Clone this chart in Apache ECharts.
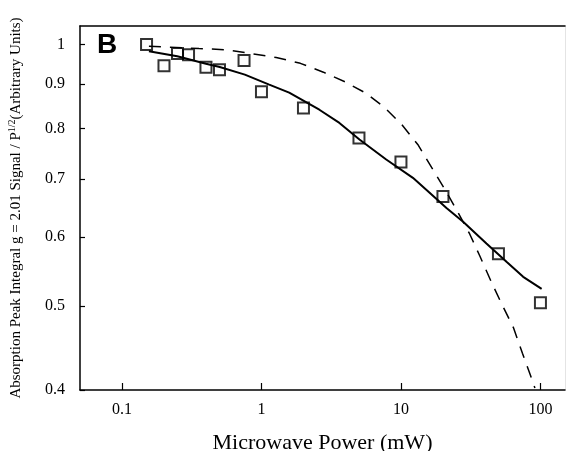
<!DOCTYPE html>
<html><head><meta charset="utf-8">
<script src="https://cdn.jsdelivr.net/npm/echarts@6/dist/echarts.min.js"></script>
<style>html,body{margin:0;padding:0;background:#fff}#c{width:566px;height:451px}</style>
</head><body><div id="c"></div>
<script>
const xTicks = [0.1, 1, 10, 100];
const yTicks = [0.4, 0.5, 0.6, 0.7, 0.8, 0.9, 1];
const powerData = [0.15, 0.2, 0.25, 0.3, 0.4, 0.5, 0.75, 1, 2, 5, 10, 20, 50, 100];
const signalData = [1.0, 0.945, 0.976, 0.973, 0.941, 0.935, 0.958, 0.882, 0.845, 0.780, 0.732, 0.668, 0.574, 0.504];
const fitPower = [0.156, 0.249, 0.40, 0.502, 0.76, 1.136, 1.58, 2.60, 3.62, 5.04, 7.84, 12.18, 16.05, 21.2, 27.9, 41.0, 57.1, 75.2, 102];
const fitSignal = [0.982, 0.969, 0.950, 0.942, 0.923, 0.899, 0.880, 0.841, 0.812, 0.777, 0.737, 0.702, 0.675, 0.648, 0.625, 0.590, 0.562, 0.540, 0.523];
const dashPower = [0.156, 0.357, 0.557, 0.843, 1.275, 1.90, 2.78, 4.0, 5.66, 7.62, 10.1, 13.2, 21.1, 25.7, 31.1, 36.7, 44.4, 52.0, 64.0, 74.3, 84.8, 91.3];
const dashSignal = [0.995, 0.989, 0.986, 0.976, 0.966, 0.951, 0.929, 0.905, 0.878, 0.846, 0.809, 0.767, 0.677, 0.640, 0.605, 0.571, 0.533, 0.505, 0.472, 0.441, 0.416, 0.402];

const zip = (a, b) => a.map((v, i) => [v, b[i]]);
const serif = 'Liberation Serif';
const chart = echarts.init(document.getElementById('c'));
chart.setOption({
  animation: false,
  backgroundColor: '#fff',
  grid: { left: 80, right: 1, top: 26, bottom: 61, containLabel: false, outerBoundsMode: 'none' },
  xAxis: [{
    type: 'log', min: 0.05, max: 150,
    name: 'Microwave Power (mW)', nameLocation: 'middle', nameGap: 42,
    nameTextStyle: { fontFamily: serif, fontSize: 22, color: '#000' },
    axisLine: { lineStyle: { color: '#000', width: 1.5 } },
    axisTick: { inside: true, length: 7, lineStyle: { color: '#000', width: 1.2 }, customValues: xTicks },
    axisLabel: { fontFamily: serif, fontSize: 16, color: '#000', margin: 12, customValues: xTicks,
      formatter: v => String(v) },
    minorTick: { show: false }, splitLine: { show: false }
  }, {
    type: 'log', min: 0.05, max: 150, position: 'top',
    axisLine: { lineStyle: { color: '#000', width: 1.5 } },
    axisTick: { show: false }, axisLabel: { show: false }, splitLine: { show: false }
  }],
  yAxis: [{
    type: 'log', min: 0.4, max: 1.05,
    name: '{a|Absorption Peak Integral g = 2.01 Signal / P}{s|1/2}{a|(Arbitrary Units)}',
    nameLocation: 'middle', nameGap: 54, nameRotate: 90,
    nameTextStyle: { fontFamily: serif, color: '#000',
      rich: { a: { fontFamily: serif, fontSize: 15, color: '#000', lineHeight: 19 },
              s: { fontFamily: serif, fontSize: 10, color: '#000', verticalAlign: 'top', lineHeight: 19, padding: [0, 0, 7, 0] } } },
    axisLine: { lineStyle: { color: '#000', width: 1.5 } },
    axisTick: { inside: true, length: 5, lineStyle: { color: '#000', width: 1.2 }, customValues: yTicks },
    axisLabel: { fontFamily: serif, fontSize: 16, color: '#000', margin: 15, customValues: yTicks,
      formatter: v => String(+v.toFixed(2)) },
    splitLine: { show: false }
  }, {
    type: 'log', min: 0.4, max: 1.05, position: 'right',
    axisLine: { lineStyle: { color: '#e4e4e4', width: 1 } },
    axisTick: { show: false }, axisLabel: { show: false }, splitLine: { show: false }
  }],
  graphic: [{
    type: 'text', left: 97, top: 31,
    style: { text: 'B', font: 'bold 28px "Liberation Sans"', fill: '#000' }
  }],
  series: [{
    type: 'line', data: zip(dashPower, dashSignal), showSymbol: false, symbol: 'none',
    lineStyle: { color: '#000', width: 1.5, type: [12, 9] }, z: 2
  }, {
    type: 'line', data: zip(fitPower, fitSignal), showSymbol: false, symbol: 'none',
    lineStyle: { color: '#000', width: 2 }, z: 3
  }, {
    type: 'scatter', data: zip(powerData, signalData), symbol: 'rect', symbolSize: 11,
    itemStyle: { color: 'rgba(0,0,0,0)', borderColor: '#000', borderWidth: 2 }, z: 4
  }]
});
</script></body></html>
